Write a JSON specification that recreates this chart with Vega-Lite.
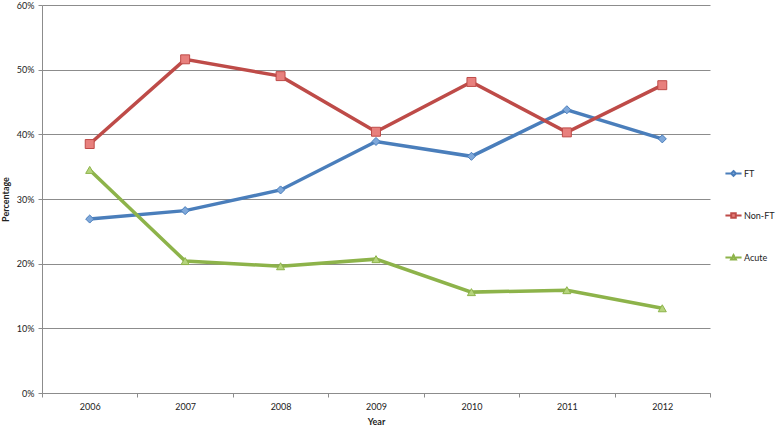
{
  "$schema": "https://vega.github.io/schema/vega-lite/v6.json",
  "width": 668,
  "height": 388,
  "autosize": {"type": "none"},
  "padding": {"left": 42, "top": 5, "right": 68, "bottom": 35},
  "background": "white",
  "config": {
    "view": {"stroke": null},
    "font": "Lato",
    "axis": {"labelFont": "Lato", "titleFont": "Lato", "labelColor": "#222", "titleColor": "#222"}
  },
  "data": {
    "values": [
      {"Year": "2006", "Series": "FT", "Value": 0.269},
      {"Year": "2007", "Series": "FT", "Value": 0.282},
      {"Year": "2008", "Series": "FT", "Value": 0.314},
      {"Year": "2009", "Series": "FT", "Value": 0.389},
      {"Year": "2010", "Series": "FT", "Value": 0.366},
      {"Year": "2011", "Series": "FT", "Value": 0.438},
      {"Year": "2012", "Series": "FT", "Value": 0.393},
      {"Year": "2006", "Series": "Non-FT", "Value": 0.385},
      {"Year": "2007", "Series": "Non-FT", "Value": 0.516},
      {"Year": "2008", "Series": "Non-FT", "Value": 0.490},
      {"Year": "2009", "Series": "Non-FT", "Value": 0.404},
      {"Year": "2010", "Series": "Non-FT", "Value": 0.481},
      {"Year": "2011", "Series": "Non-FT", "Value": 0.403},
      {"Year": "2012", "Series": "Non-FT", "Value": 0.476},
      {"Year": "2006", "Series": "Acute", "Value": 0.345},
      {"Year": "2007", "Series": "Acute", "Value": 0.204},
      {"Year": "2008", "Series": "Acute", "Value": 0.196},
      {"Year": "2009", "Series": "Acute", "Value": 0.207},
      {"Year": "2010", "Series": "Acute", "Value": 0.156},
      {"Year": "2011", "Series": "Acute", "Value": 0.159},
      {"Year": "2012", "Series": "Acute", "Value": 0.131}
    ]
  },
  "encoding": {
    "x": {
      "field": "Year", "type": "ordinal",
      "scale": {"type": "band", "paddingInner": 0, "paddingOuter": 0},
      "axis": {
        "title": "Year", "labelAngle": 0, "tickBand": "extent",
        "domainColor": "#8c8c8c", "tickColor": "#8c8c8c", "tickSize": 4,
        "labelFontSize": 9, "labelPadding": 5, "titleFontSize": 9, "titleFontWeight": "bold", "titlePadding": 6,
        "grid": false
      }
    },
    "y": {
      "field": "Value", "type": "quantitative",
      "scale": {"domain": [0, 0.6], "nice": false},
      "axis": {
        "title": "Percentage", "format": ".0%", "values": [0, 0.1, 0.2, 0.3, 0.4, 0.5, 0.6], "labelOverlap": false,
        "domainColor": "#8c8c8c", "tickColor": "#8c8c8c", "tickSize": 4,
        "gridColor": "#8c8c8c", "gridWidth": 1, "gridOpacity": 1,
        "labelFontSize": 9, "labelPadding": 4, "titleFontSize": 9, "titleFontWeight": "bold", "titlePadding": 6
      }
    }
  },
  "layer": [
    {
      "mark": {"type": "line", "strokeWidth": 3.5},
      "encoding": {
        "color": {
          "field": "Series", "type": "nominal",
          "scale": {"domain": ["FT", "Non-FT", "Acute"], "range": ["#4a7ebb", "#be4b48", "#8db34a"]},
          "legend": {
            "title": null, "orient": "none", "legendX": 682, "legendY": 159,
            "labelFontSize": 9, "labelColor": "#222", "labelOffset": 1,
            "symbolSize": 260, "rowPadding": 26, "symbolStrokeWidth": 2,
            "encode": {
              "symbols": {
                "update": {
                  "shape": {"signal": "datum.value === 'FT' ? 'M-1,0H-0.3M0.3,0H1M0,-0.3L0.3,0L0,0.3L-0.3,0Z' : datum.value === 'Non-FT' ? 'M-1,0H-0.28M0.28,0H1M-0.28,-0.28H0.28V0.28H-0.28Z' : 'M-1,0H-0.3M0.3,0H1M0,-0.3L0.3,0.25L-0.3,0.25Z'"},
                  "fill": {"signal": "datum.value === 'FT' ? '#7fa8da' : datum.value === 'Non-FT' ? '#e8807d' : '#b5d47c'"}
                }
              }
            }
          }
        }
      }
    },
    {
      "transform": [{"filter": "datum.Series === 'FT'"}],
      "mark": {"type": "point", "shape": "diamond", "filled": true, "opacity": 1, "fill": "#7fa8da", "stroke": "#4a7ebb", "strokeWidth": 1, "size": 65}
    },
    {
      "transform": [{"filter": "datum.Series === 'Non-FT'"}],
      "mark": {"type": "point", "shape": "square", "filled": true, "opacity": 1, "fill": "#e8807d", "stroke": "#be4b48", "strokeWidth": 1, "size": 80}
    },
    {
      "transform": [{"filter": "datum.Series === 'Acute'"}],
      "mark": {"type": "point", "shape": "triangle-up", "filled": true, "opacity": 1, "fill": "#b5d47c", "stroke": "#8db34a", "strokeWidth": 1, "size": 65}
    }
  ]
}
